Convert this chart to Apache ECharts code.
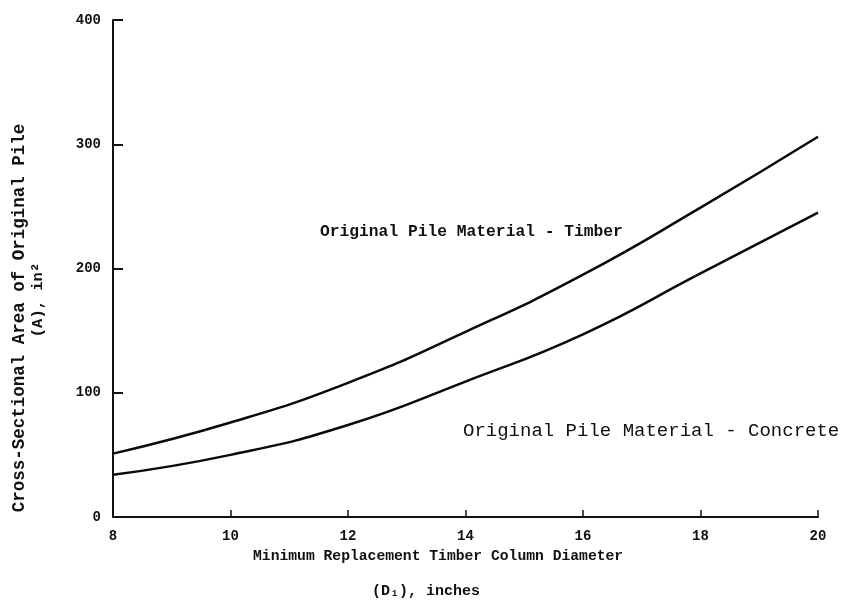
<!DOCTYPE html>
<html>
<head>
<meta charset="utf-8">
<script src="https://cdn.jsdelivr.net/npm/echarts@6/dist/echarts.min.js"></script>
<style>html,body{margin:0;padding:0;background:#fff}#c{width:844px;height:613px}</style>
</head>
<body>
<div id="c"></div>
<script>
var diameters = [8, 10, 12, 14, 16, 18, 20];
var timberArea = [51, 76, 108, 149, 195, 249, 306];
var concreteArea = [34, 50, 74, 109, 147, 196, 245];
var yTicks = [0, 100, 200, 300, 400];

var FONT = '"Liberation Mono", "DejaVu Sans Mono", monospace';
var chart = echarts.init(document.getElementById('c'));
function pairs(xs, ys) { return xs.map(function (x, i) { return [x, ys[i]]; }); }

chart.setOption({
  backgroundColor: '#ffffff',
  animation: false,
  grid: { left: 113, right: 26, top: 20, bottom: 96 },
  xAxis: {
    type: 'value', min: 8, max: 20, interval: 2,
    axisLine: { lineStyle: { color: '#111', width: 2 } },
    axisTick: { inside: true, length: 7, lineStyle: { color: '#111', width: 1.5 } },
    axisLabel: { color: '#111', fontFamily: FONT, fontWeight: 'bold', fontSize: 14, margin: 12 },
    splitLine: { show: false }
  },
  yAxis: {
    type: 'value', min: 0, max: 400, interval: 100,
    axisLine: { show: true, lineStyle: { color: '#111', width: 2 } },
    axisTick: { show: true, inside: true, length: 10, lineStyle: { color: '#111', width: 2 } },
    axisLabel: { color: '#111', fontFamily: FONT, fontWeight: 'bold', fontSize: 14, margin: 12,
      formatter: function (v) { return yTicks.indexOf(v) >= 0 ? String(v) : ''; } },
    splitLine: { show: false }
  },
  series: [
    { name: 'Timber', type: 'line', smooth: true, symbol: 'none',
      lineStyle: { color: '#0a0a0a', width: 2.5 }, data: pairs(diameters, timberArea) },
    { name: 'Concrete', type: 'line', smooth: true, symbol: 'none',
      lineStyle: { color: '#0a0a0a', width: 2.5 }, data: pairs(diameters, concreteArea) }
  ],
  graphic: [
    { type: 'text', x: 320, y: 232, style: { text: 'Original Pile Material - Timber', fill: '#111',
      font: 'bold 16.3px ' + FONT, verticalAlign: 'middle' } },
    { type: 'text', x: 463, y: 431, style: { text: 'Original Pile Material - Concrete', fill: '#111',
      font: '19px ' + FONT, verticalAlign: 'middle' } },
    { type: 'text', x: 253, y: 556, style: { text: 'Minimum Replacement Timber Column Diameter', fill: '#111',
      font: 'bold 14.7px ' + FONT, verticalAlign: 'middle' } },
    { type: 'text', x: 372, y: 591, style: { text: '(D\u2081), inches', fill: '#111',
      font: 'bold 15px ' + FONT, verticalAlign: 'middle' } },
    { type: 'text', x: 20, y: 318, rotation: Math.PI / 2, style: { text: 'Cross-Sectional Area of Original Pile', fill: '#111',
      font: 'bold 17.5px ' + FONT, align: 'center', verticalAlign: 'middle' } },
    { type: 'text', x: 38, y: 300, rotation: Math.PI / 2, style: { text: '(A), in\u00b2', fill: '#111',
      font: 'bold 15.5px ' + FONT, align: 'center', verticalAlign: 'middle' } }
  ]
});
</script>
</body>
</html>
